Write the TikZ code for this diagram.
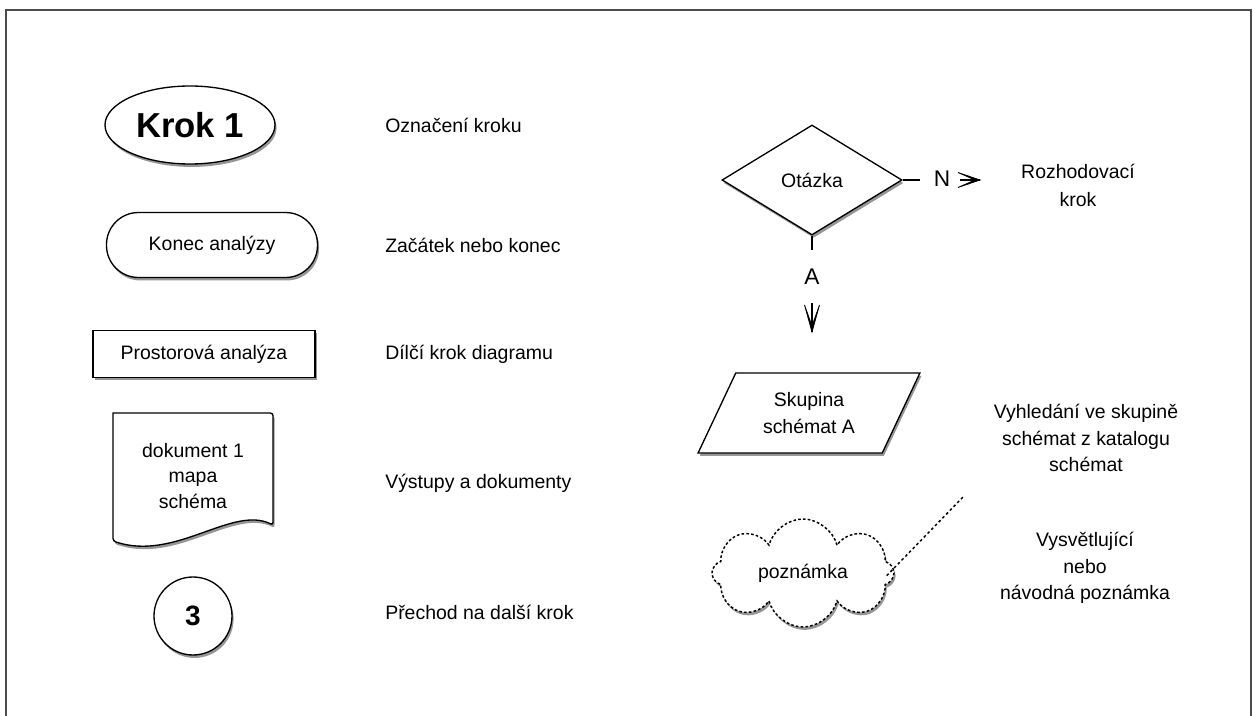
\documentclass[tikz,border=0pt]{standalone}
\usepackage{fontspec}
\setmainfont{Liberation Sans}
\usetikzlibrary{shapes.geometric,shapes.symbols,shadows}
\begin{document}
\begin{tikzpicture}[x=0.75pt,y=-0.75pt,
  txt/.style={font=\fontsize{14.6}{17}\selectfont, align=center, inner sep=0pt},
  big/.style={font=\fontsize{17}{20}\selectfont, inner sep=0pt},
  lbl/.style={txt, anchor=west},
  soft/.style={drop shadow={shadow xshift=1.2pt, shadow yshift=-2.2pt, opacity=0.55, fill=black!75}},
  symbox/.style={draw=black, line width=1pt, fill=white, soft},
  wire/.style={line width=1pt},
  barbs/.style={fill=black, draw=black, line width=0.6pt, line join=miter}]
\useasboundingbox (0,0) rectangle (1253,716);
% outer frame (open at the bottom)
\draw[line width=2pt, black!70] (6,716) -- (6,10) -- (1251,10) -- (1251,716);

% left column: symbols
\node[symbox, ellipse, minimum width=170*0.75pt, minimum height=78*0.75pt, inner sep=0pt,
      font=\fontsize{26}{30}\bfseries\selectfont] (krok) at (190,125) {Krok 1};
\node[symbox, rounded corners=32*0.75pt, minimum width=211*0.75pt, minimum height=65*0.75pt, txt]
      (konec) at (212,245) {Konec analýzy};
\node[symbox, minimum width=222*0.75pt, minimum height=47*0.75pt, txt]
      (prostor) at (204,354) {Prostorová analýza};
\draw[symbox, rounded corners=2pt]
      (113,413) -- (273,413) -- (273,525)
      .. controls (232,505) and (175,562) .. (113,541) [sharp corners] -- cycle;
\node[txt] (dok) at (193,476) {dokument 1\\[2pt]mapa\\[2pt]schéma};
\node[symbox, circle, minimum size=78*0.75pt, inner sep=0pt,
      font=\fontsize{21}{24}\bfseries\selectfont] (tri) at (193,616) {3};

% left column: descriptions
\node[lbl] (d1) at (385,125) {Označení kroku};
\node[lbl] (d2) at (385,245) {Začátek nebo konec};
\node[lbl] (d3) at (385,354) {Dílčí krok diagramu};
\node[lbl] (d4) at (385,483) {Výstupy a dokumenty};
\node[lbl] (d5) at (385,612) {Přechod na další krok};

% right column: decision
\node[symbox, diamond, aspect=1.64, minimum width=180*0.75pt, minimum height=110*0.75pt,
      inner sep=0pt, txt] (otazka) at (812,180) {Otázka};
\node[big] (n) at (942,179) {N};
\coordinate (nend) at (920,180);
\draw[wire] (otazka.east) -- (nend);
% "no" branch: barbed arrowhead
\coordinate (ntail) at (960,180);
\coordinate (ntip) at (980,180);
\draw[wire] (ntail) -- (ntip);
\filldraw[barbs] (ntip) -- ++(-22,-7.5) -- ++(17,7.5) -- ++(-17,7.5) -- cycle;
\node[big] (a) at (812,277) {A};
\coordinate (aend) at (812,250);
\draw[wire] (otazka.south) -- (aend);
% "yes" branch: barbed arrowhead
\coordinate (atail) at (812,303);
\coordinate (atip) at (812,332);
\draw[wire] (atail) -- (atip);
\filldraw[barbs] (atip) -- ++(-7.5,-27) -- ++(7.5,21) -- ++(7.5,-21) -- cycle;
\node[txt] (r1) at (1078,185) {Rozhodovací\\[4pt]krok};

% right column: data group
\node[symbox, trapezium, trapezium left angle=60, trapezium right angle=120,
      trapezium stretches=true,
      minimum width=222*0.75pt, minimum height=80*0.75pt, inner sep=0pt, txt]
      (skup) at (809,413) {Skupina\\[3pt]schémat A};
\node[txt] (r2) at (1086,438) {Vyhledání ve skupině\\[3pt]schémat z katalogu\\[3pt]schémat};

% right column: annotation
\node[cloud, cloud puffs=8, aspect=1.75, draw=black, line width=1.1pt,
      dash pattern=on 2pt off 1.6pt, fill=white, soft,
      minimum width=182*0.75pt, minimum height=108*0.75pt, inner sep=0pt, txt]
      (pozn) at (803,573) {poznámka};
\coordinate (pend) at (963,497);
\draw[line width=1.1pt, dash pattern=on 2pt off 2pt] (pozn.east) ++(-6pt,-2pt) -- (pend);
\node[txt] (r3) at (1085,568) {Vysvětlující\\[3pt]nebo\\[3pt]návodná poznámka};
\end{tikzpicture}
\end{document}
